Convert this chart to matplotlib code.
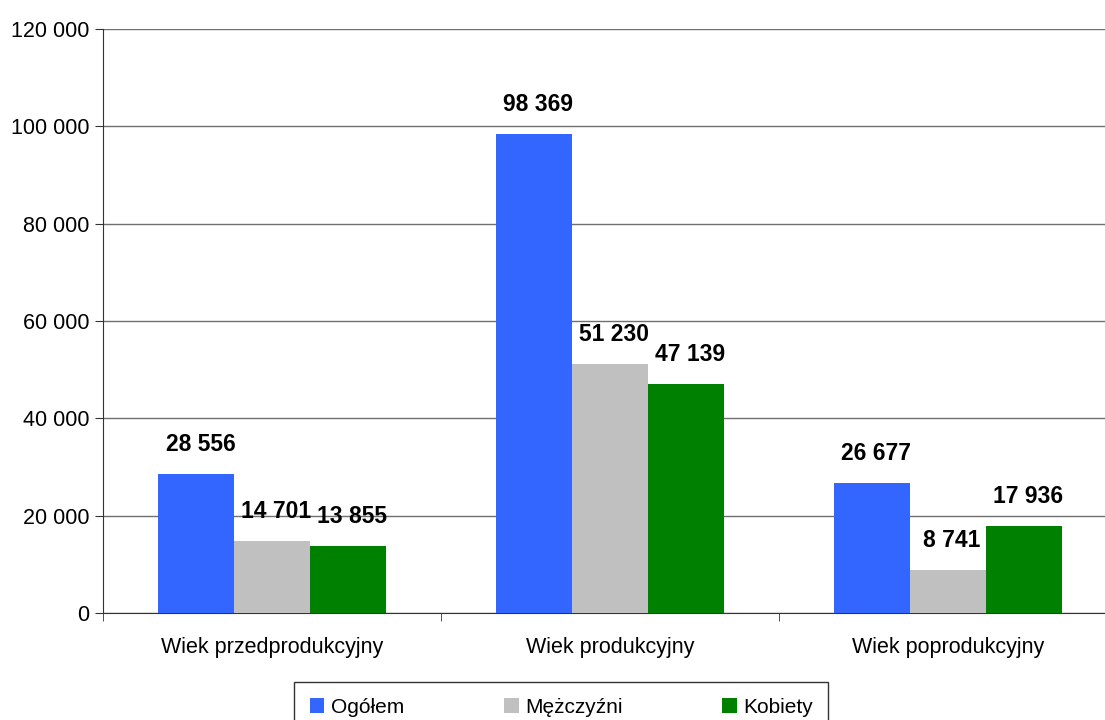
import matplotlib.pyplot as plt
import numpy as np
from matplotlib.ticker import FuncFormatter

plt.rcParams['font.family'] = ['Liberation Sans', 'DejaVu Sans']

categories = ['Wiek przedprodukcyjny', 'Wiek produkcyjny', 'Wiek poprodukcyjny']
series = ['Ogółem', 'Mężczyźni', 'Kobiety']
ogolem = [28556, 98369, 26677]
mezczyzni = [14701, 51230, 8741]
kobiety = [13855, 47139, 17936]
colors = ['#3366FF', '#C0C0C0', '#008000']

def fmt(v, pos=None):
    return '{:,}'.format(int(v)).replace(',', ' ')

fig = plt.figure(figsize=(11.05, 7.2), dpi=100)
ax = fig.add_axes([103/1105, 107/720, 1014/1105, 584/720])

x = np.arange(len(categories))
w = 0.224
for i, (vals, name, c) in enumerate(zip([ogolem, mezczyzni, kobiety], series, colors)):
    pos = x + (i - 1) * w
    ax.bar(pos, vals, width=w, color=c, label=name, zorder=3)
    for p, v in zip(pos, vals):
        ax.annotate(fmt(v), (p, v), xytext=(3, 13), textcoords='offset points',
                    ha='center', va='bottom', fontsize=16.5, fontweight='bold')

ax.set_ylim(0, 120000)
ax.set_xlim(-0.5, 2.5)
ax.set_yticks(np.arange(0, 120001, 20000))
ax.yaxis.set_major_formatter(FuncFormatter(fmt))
ax.grid(axis='y', color='#707070', linewidth=1, zorder=0)
ax.set_xticks(x)
ax.set_xticklabels(categories)
ax.set_xticks([-0.5, 0.5, 1.5, 2.5], minor=True)
ax.tick_params(axis='x', which='major', length=0, pad=17, labelsize=15.5)
ax.tick_params(axis='x', which='minor', length=6, direction='out', color='#333333')
ax.tick_params(axis='y', length=6, direction='out', labelsize=15.5, color='#333333', pad=4)
for s in ['top', 'right']:
    ax.spines[s].set_visible(False)
ax.spines['left'].set_color('#333333')
ax.spines['bottom'].set_color('#333333')

leg = fig.legend(loc='upper center', bbox_to_anchor=(0.508, 1 - 682/720), ncol=3,
                 fontsize=15, frameon=True, fancybox=False, edgecolor='black',
                 handlelength=0.7, handleheight=0.7, handletextpad=0.3,
                 columnspacing=4.8, borderpad=0.75, borderaxespad=0)
leg.get_frame().set_linewidth(1)

fig.savefig('out.png', dpi=100)
